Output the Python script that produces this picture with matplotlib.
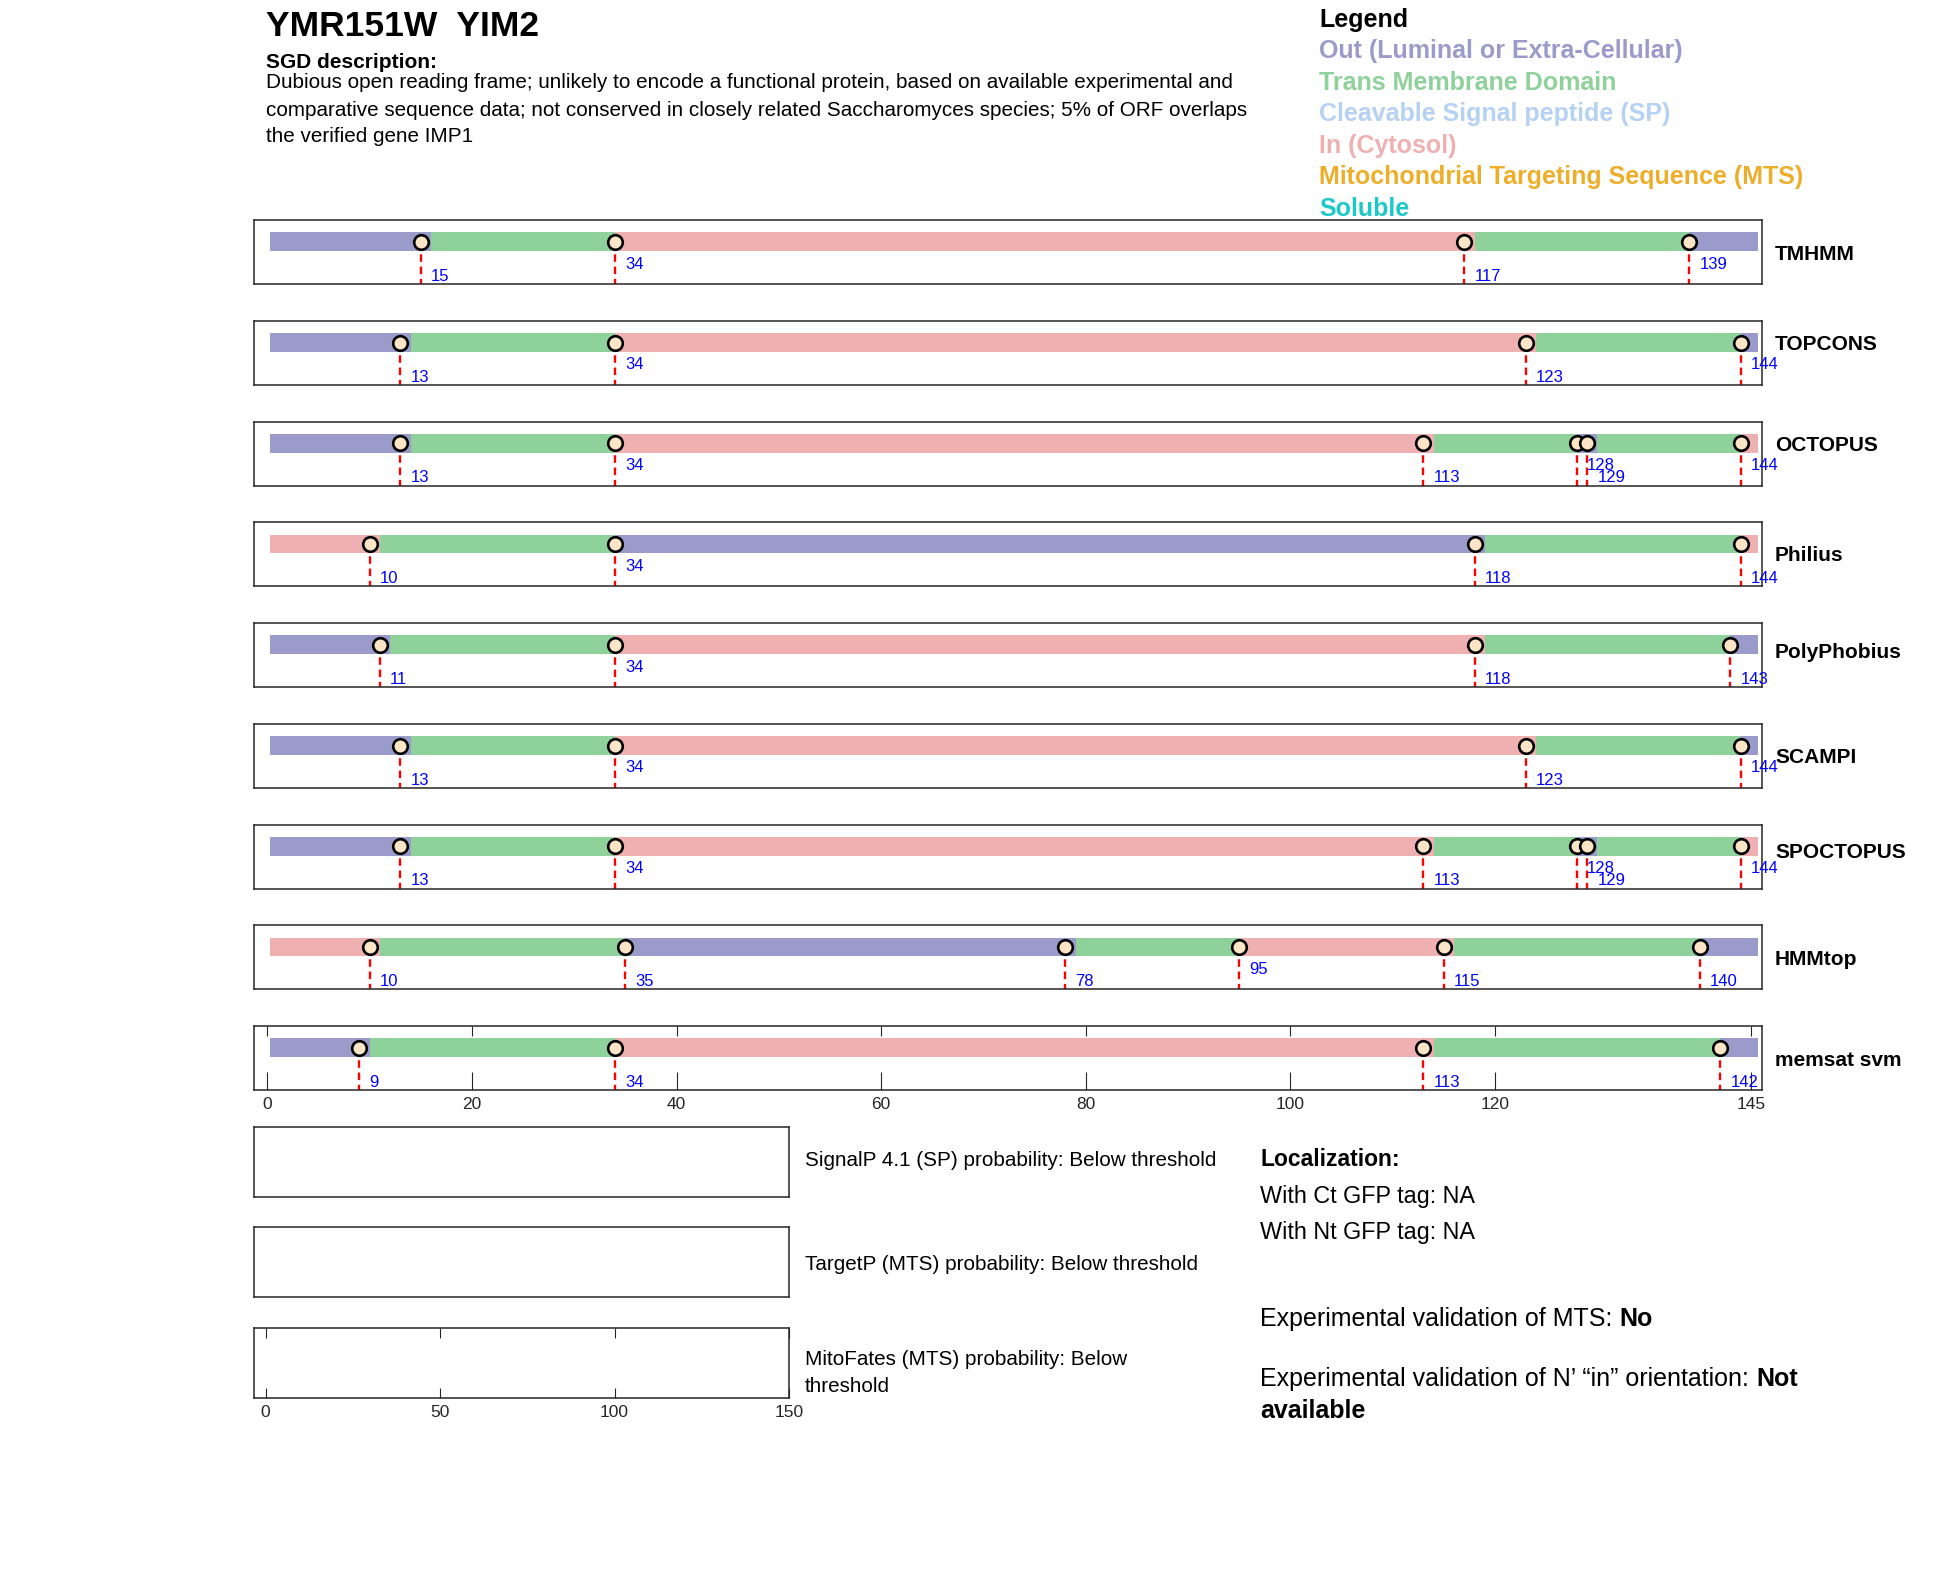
import matplotlib
matplotlib.use("Agg")
import matplotlib.pyplot as plt

plt.rcParams['font.family'] = ['Liberation Sans', 'DejaVu Sans']

# ---- data ----
gene_title = "YMR151W  YIM2"
sgd_lines = [
    "Dubious open reading frame; unlikely to encode a functional protein, based on available experimental and",
    "comparative sequence data; not conserved in closely related Saccharomyces species; 5% of ORF overlaps",
    "the verified gene IMP1",
]
protein_len = 145

methods = ["TMHMM", "TOPCONS", "OCTOPUS", "Philius", "PolyPhobius",
           "SCAMPI", "SPOCTOPUS", "HMMtop", "memsat svm"]

boundaries = [
    [15, 34, 117, 139],
    [13, 34, 123, 144],
    [13, 34, 113, 128, 129, 144],
    [10, 34, 118, 144],
    [11, 34, 118, 143],
    [13, 34, 123, 144],
    [13, 34, 113, 128, 129, 144],
    [10, 35, 78, 95, 115, 140],
    [9, 34, 113, 142],
]

# topology states between boundaries (O = out, M = membrane, I = in)
states = [
    "OMIMO",
    "OMIMO",
    "OMIMOMI",
    "IMOMI",
    "OMIMO",
    "OMIMO",
    "OMIMOMI",
    "IMOMIMO",
    "OMIMO",
]

# which boundary labels sit in the upper row (1) or the lower row (0)
label_rows = [
    [0, 1, 0, 1],
    [0, 1, 0, 1],
    [0, 1, 0, 1, 0, 1],
    [0, 1, 0, 0],
    [0, 1, 0, 0],
    [0, 1, 0, 1],
    [0, 1, 0, 1, 0, 1],
    [0, 0, 0, 1, 0, 0],
    [0, 0, 0, 0],
]

track_ticks = [0, 20, 40, 60, 80, 100, 120, 145]
prob_ticks = [0, 50, 100, 150]

legend_names = ["Out (Luminal or Extra-Cellular)", "Trans Membrane Domain",
                "Cleavable Signal peptide (SP)", "In (Cytosol)",
                "Mitochondrial Targeting Sequence (MTS)", "Soluble"]
legend_colors = ["#9A9ACB", "#8FD19A", "#B5D1F3", "#EEB0B0", "#EDAE2A", "#1CC8C8"]

prob_texts = ["SignalP 4.1 (SP) probability: Below threshold",
              "TargetP (MTS) probability: Below threshold",
              "MitoFates (MTS) probability: Below\nthreshold"]

state_color = {"O": legend_colors[0], "M": legend_colors[1], "I": legend_colors[3]}

# ---- layout helpers (pixel coordinates of a 1950x1573 canvas) ----
W, H = 1950, 1573
fig = plt.figure(figsize=(W / 100, H / 100), dpi=100)

# small vertical nudges of the method names, in pixels
name_nudge = [2, -8, -8, 1, -3, 2, -4, 2, 3]


def px_axes(x0, y0, x1, y1):
    return fig.add_axes([x0 / W, 1 - y1 / H, (x1 - x0) / W, (y1 - y0) / H])


def px_text(x, y, s, **kw):
    kw.setdefault("va", "center")
    kw.setdefault("ha", "left")
    return fig.text(x / W, 1 - y / H, s, **kw)


def style_box(ax):
    for sp in ax.spines.values():
        sp.set_linewidth(1.1)
        sp.set_color("#262626")


def set_tick_lengths(ax, bottom_len, top_len):
    for tk in ax.xaxis.get_major_ticks():
        tk.tick1line.set_markersize(bottom_len)
        tk.tick2line.set_markersize(top_len)


# header
px_text(266, 27, gene_title, fontsize=25.5, fontweight="bold")
px_text(266, 62, "SGD description:", fontsize=15, fontweight="bold")
for i, line in enumerate(sgd_lines):
    px_text(266, 83 + i * 27, line, fontsize=14.9)

# legend
px_text(1319, 20, "Legend", fontsize=18, fontweight="bold")
for i, (name, col) in enumerate(zip(legend_names, legend_colors)):
    px_text(1319, 51 + i * 31.6, name, fontsize=18, fontweight="bold", color=col)

# topology tracks
track_top = 220
track_step = 100.75
track_h = 64
bar_y = 0.66
bar_h = 0.29

for t, name in enumerate(methods):
    y0 = track_top + t * track_step
    ax = px_axes(254, y0, 1762, y0 + track_h)
    b = boundaries[t]
    st = states[t]
    # edges of coloured segments: a membrane segment starts one residue after its boundary
    edges = [0.3]
    for k, pos in enumerate(b):
        edges.append(pos + 1 if st[k + 1] == "M" else pos)
    edges.append(protein_len + 0.7)
    for k, s in enumerate(st):
        ax.barh(bar_y, edges[k + 1] - edges[k], left=edges[k], height=bar_h,
                color=state_color[s], edgecolor="none", zorder=1)
    for k, pos in enumerate(b):
        ax.plot([pos, pos], [bar_y, 0], color="red", lw=1.7,
                ls=(0, (3.2, 2.0)), zorder=2, clip_on=False)
        ax.plot(pos, bar_y, marker="o", ms=10.5, mfc="#FCE4C6", mec="black",
                mew=1.9, zorder=3)
        ly = 0.31 if label_rows[t][k] else 0.12
        ax.text(pos + 1, ly, str(pos), color="blue", fontsize=12,
                ha="left", va="center", zorder=4)
    ax.set_xlim(-1.3, 146.1)
    ax.set_ylim(0, 1)
    ax.set_yticks([])
    style_box(ax)
    if t == len(methods) - 1:
        ax.set_xticks(track_ticks)
        ax.tick_params(axis="x", direction="in", top=True, bottom=True,
                       width=0.8, labelsize=12.5, colors="#262626", pad=5)
        set_tick_lengths(ax, 13, 7)
    else:
        ax.set_xticks([])
    px_text(1775, y0 + track_h / 2 + name_nudge[t], name, fontsize=15,
            fontweight="bold")

# probability boxes
prob_tops = [1127, 1227, 1328]
for i, top in enumerate(prob_tops):
    ax = px_axes(254, top, 789, top + 70)
    ax.set_xlim(-3.3, 150)
    ax.set_ylim(0, 1)
    ax.set_yticks([])
    style_box(ax)
    if i == len(prob_tops) - 1:
        ax.set_xticks(prob_ticks)
        ax.tick_params(axis="x", direction="in", top=True, bottom=True,
                       length=7, width=0.8, labelsize=12.5, colors="#262626",
                       pad=5)
    else:
        ax.set_xticks([])

px_text(805, 1160, prob_texts[0], fontsize=14.9)
px_text(805, 1265, prob_texts[1], fontsize=14.9)
px_text(805, 1373, prob_texts[2], fontsize=14.9, linespacing=1.55)

# localization block
px_text(1260, 1160, "Localization:", fontsize=16.5, fontweight="bold")
px_text(1260, 1196, "With Ct GFP tag: NA", fontsize=16.8)
px_text(1260, 1233, "With Nt GFP tag: NA", fontsize=16.8)
t1 = px_text(1260, 1319, "Experimental validation of MTS: ", fontsize=18)
fig.canvas.draw()
bb = t1.get_window_extent()
px_text(bb.x1, 1319, "No", fontsize=18, fontweight="bold")
t2 = px_text(1260, 1379, "Experimental validation of N\u2019 \u201cin\u201d orientation: ",
             fontsize=18)
fig.canvas.draw()
bb2 = t2.get_window_extent()
px_text(bb2.x1, 1379, "Not", fontsize=18, fontweight="bold")
px_text(1260, 1411, "available", fontsize=18, fontweight="bold")

fig.savefig("out.png", dpi=100)
